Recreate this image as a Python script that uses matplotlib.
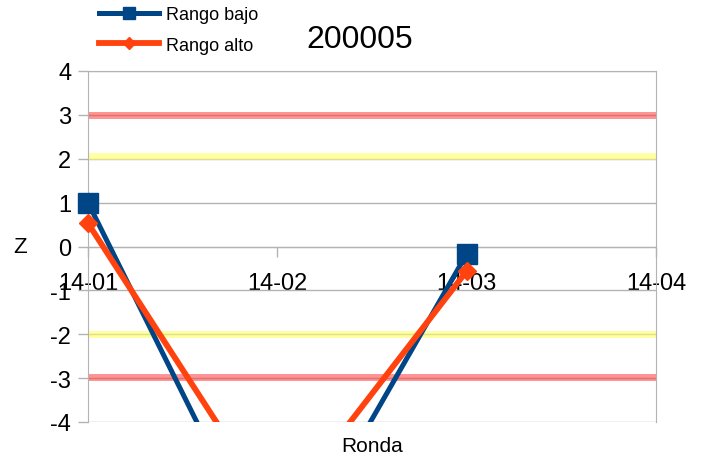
import matplotlib
matplotlib.use('Agg')
import matplotlib.pyplot as plt
from matplotlib.patches import Rectangle
import numpy as np

plt.rcParams['font.family'] = ['Liberation Sans', 'DejaVu Sans']
plt.rcParams['axes.unicode_minus'] = False

# data
rondas = ['14-01', '14-02', '14-03', '14-04']
rango_bajo = [1.0, -7.7, -0.17, np.nan]
rango_alto = [0.53, -6.15, -0.56, np.nan]
limites_rojos = [3.0, -2.97]
limites_amarillos = [2.07, -2.0]
titulo = '200005'

fig = plt.figure(figsize=(7.06, 4.64), dpi=100)
ax = fig.add_axes([88 / 706, 1 - 423 / 464, (656 - 88) / 706, (423 - 72) / 464])

x = np.arange(len(rondas))

# threshold bands
ax.hlines(limites_rojos, x[0], x[-1], colors='#ff3b3b', alpha=0.55, linewidth=5, zorder=2)
ax.hlines(limites_amarillos, x[0], x[-1], colors='#ffff66', alpha=0.6, linewidth=5, zorder=2)

# clip only at the bottom/top, so the markers on the side edges stay whole
clip = Rectangle((-0.1, 0), 1.2, 1, transform=ax.transAxes)

l1, = ax.plot(x, rango_bajo, color='#004586', linewidth=3.6, marker='s', markersize=14,
              label='Rango bajo', zorder=4)
l2, = ax.plot(x, rango_alto, color='#ff420e', linewidth=4.2, marker='D', markersize=9,
              label='Rango alto', zorder=5)
l1.set_clip_path(clip)
l2.set_clip_path(clip)

ax.set_xlim(x[0], x[-1])
ax.set_ylim(-4, 4)
ax.set_yticks(range(-4, 5))
ax.set_xticks(x)
ax.set_xticklabels(rondas)

ax.grid(axis='y', color='#b3b3b3', linewidth=1)
ax.set_axisbelow(True)
for s in ax.spines.values():
    s.set_color('#b3b3b3')
ax.spines['bottom'].set_position(('data', 0))

ax.tick_params(axis='both', colors='#b3b3b3', labelcolor='black', labelsize=17,
               length=7, width=1)
ax.tick_params(axis='x', pad=11)
ax.tick_params(axis='y', pad=5)

ax.set_ylabel('Z', fontsize=16, rotation=0, va='center')
ax.yaxis.set_label_coords(-0.12, 0.5)
ax.set_xlabel('Ronda', fontsize=15)
ax.xaxis.set_label_coords(0.5, -0.04)

fig.text(360 / 706, 1 - 40 / 464, titulo, fontsize=23, ha='center', va='center')

fig.legend(loc='upper left', bbox_to_anchor=(92 / 706, 1.0), frameon=False, fontsize=13,
           handlelength=3.3, handletextpad=0.4, labelspacing=0.75, borderaxespad=0,
           markerscale=0.65)

fig.savefig('out.png', dpi=100)
